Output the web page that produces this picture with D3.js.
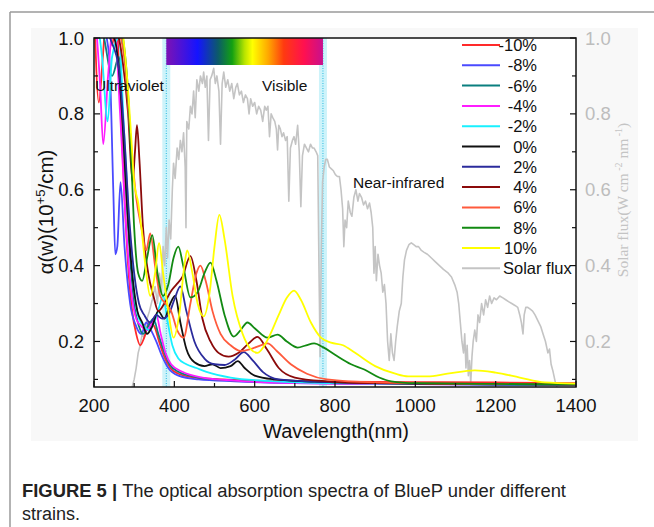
<!DOCTYPE html>
<html>
<head>
<meta charset="utf-8">
<script src="https://cdn.jsdelivr.net/npm/d3@7"></script>
<style>
  body { margin: 0; background: #fff; }
  svg { display: block; font-family: Arial, "Liberation Sans", sans-serif; }
</style>
</head>
<body>
<svg id="chart" width="654" height="527"></svg>
<script>
// Axis ticks
const xTicks = [200, 400, 600, 800, 1000, 1200, 1400];
const xMinorTicks = [300, 500, 700, 900, 1100, 1300];
const yTicks = [0.2, 0.4, 0.6, 0.8, 1.0];
const yMinorTicks = [0.1, 0.3, 0.5, 0.7, 0.9];

// Visible band edges (nm)
const visibleRange = [380, 770];

const strainLabels = ['-10%', '-8%', '-6%', '-4%', '-2%', '0%', '2%', '4%', '6%', '8%', '10%'];
const strainColors = ['#ff2a2a', '#4a4aff', '#0a7f7f', '#ff1cff', '#18f0ff', '#111111',
                      '#2b2b9c', '#8b0a0a', '#ff5a3c', '#128a12', '#ffff00'];

// Absorption spectra, [wavelength nm, alpha (1e5/cm)]
const absM10 = [[200,1.1],[212,0.83],[222,0.95],[232,1.08],[245,0.98],[255,1.05],[265,0.85],[275,0.6],
  [285,0.4],[295,0.28],[305,0.22],[315,0.19],[325,0.21],[338,0.25],[350,0.24],[362,0.2],[375,0.16],
  [390,0.13],[410,0.115],[450,0.105],[520,0.1],[600,0.097],[700,0.095],[800,0.094],[1000,0.093],
  [1200,0.092],[1400,0.09]];
const absM8 = [[200,1.1],[220,1.05],[238,0.95],[248,0.6],[253,0.43],[258,0.45],[266,0.62],[276,0.45],
  [290,0.3],[305,0.24],[318,0.22],[330,0.25],[342,0.23],[355,0.2],[370,0.16],[385,0.13],[410,0.11],
  [460,0.1],[550,0.095],[700,0.09],[900,0.088],[1200,0.086],[1400,0.085]];
const absM6 = [[200,1.1],[225,1.0],[245,0.9],[262,0.95],[275,0.7],[288,0.45],[300,0.3],[312,0.24],
  [322,0.22],[335,0.24],[348,0.26],[360,0.22],[372,0.18],[388,0.14],[410,0.12],[460,0.105],
  [550,0.097],[700,0.092],[900,0.089],[1200,0.087],[1400,0.086]];
const absM4 = [[200,1.1],[215,0.88],[223,0.72],[235,0.9],[250,1.05],[265,0.8],[280,0.5],[293,0.33],
  [305,0.26],[318,0.24],[332,0.23],[345,0.25],[355,0.27],[366,0.22],[378,0.17],[392,0.14],[420,0.12],
  [470,0.105],[550,0.097],[700,0.09],[900,0.088],[1200,0.086],[1400,0.085]];
const absM2 = [[200,1.1],[220,0.95],[234,0.78],[245,0.95],[262,1.0],[275,0.75],[288,0.5],[300,0.33],
  [312,0.26],[325,0.24],[338,0.23],[350,0.25],[362,0.29],[372,0.32],[382,0.26],[395,0.19],[410,0.155],
  [430,0.14],[455,0.13],[480,0.12],[540,0.105],[650,0.095],[800,0.09],[1000,0.088],[1400,0.085]];
const abs0 = [[200,1.1],[230,1.05],[255,0.98],[270,0.8],[283,0.55],[295,0.38],[308,0.28],[320,0.25],
  [332,0.22],[345,0.24],[360,0.28],[375,0.26],[390,0.3],[402,0.32],[415,0.25],[430,0.18],[450,0.145],
  [475,0.135],[495,0.14],[515,0.13],[540,0.135],[558,0.148],[575,0.13],[600,0.11],[650,0.1],
  [750,0.094],[900,0.09],[1200,0.087],[1400,0.086]];
const abs2 = [[200,1.1],[240,1.0],[262,0.92],[275,0.75],[288,0.52],[300,0.38],[312,0.3],[325,0.27],
  [340,0.25],[355,0.27],[370,0.26],[385,0.27],[400,0.31],[415,0.345],[430,0.28],[450,0.2],[475,0.155],
  [500,0.14],[525,0.138],[550,0.152],[573,0.172],[595,0.15],[620,0.12],[660,0.1],[750,0.094],
  [900,0.09],[1200,0.087],[1400,0.086]];
const abs4 = [[200,1.1],[245,1.05],[270,0.95],[285,0.8],[296,0.62],[302,0.7],[307,0.77],[313,0.68],
  [322,0.5],[335,0.38],[348,0.32],[360,0.28],[375,0.3],[390,0.33],[405,0.35],[420,0.37],[440,0.425],
  [455,0.36],[470,0.26],[490,0.2],[510,0.17],[535,0.16],[560,0.17],[585,0.195],[607,0.212],[630,0.18],
  [660,0.13],[700,0.105],[780,0.095],[900,0.09],[1200,0.088],[1400,0.087]];
const abs6 = [[200,1.1],[250,1.05],[275,0.95],[290,0.75],[305,0.58],[318,0.5],[330,0.44],[340,0.485],
  [352,0.4],[365,0.32],[378,0.3],[392,0.28],[407,0.23],[423,0.21],[440,0.3],[455,0.38],[465,0.4],
  [478,0.36],[495,0.28],[515,0.22],[540,0.19],[565,0.175],[590,0.18],[615,0.19],[632,0.195],
  [655,0.175],[690,0.14],[730,0.115],[780,0.1],[900,0.092],[1200,0.088],[1400,0.087]];
const abs8 = [[200,1.1],[260,1.05],[282,0.9],[292,0.7],[300,0.5],[310,0.38],[320,0.36],[332,0.42],
  [345,0.48],[358,0.38],[372,0.32],[385,0.35],[398,0.42],[410,0.45],[422,0.4],[440,0.316],[458,0.33],
  [475,0.38],[490,0.408],[505,0.36],[525,0.27],[548,0.213],[565,0.23],[582,0.25],[600,0.235],
  [632,0.21],[657,0.218],[680,0.2],[707,0.184],[728,0.19],[748,0.195],[770,0.185],[800,0.165],
  [840,0.14],[873,0.126],[910,0.105],[940,0.095],[1000,0.09],[1200,0.088],[1400,0.087]];
const abs10 = [[200,1.1],[265,1.05],[282,0.9],[292,0.75],[300,0.62],[310,0.566],[318,0.5],[328,0.4],
  [340,0.32],[352,0.38],[362,0.46],[372,0.38],[385,0.28],[398,0.21],[412,0.27],[425,0.4],[432,0.44],
  [445,0.38],[458,0.3],[473,0.266],[488,0.33],[500,0.45],[512,0.534],[525,0.47],[545,0.32],
  [570,0.22],[590,0.18],[607,0.17],[630,0.2],[660,0.27],[680,0.315],[698,0.334],[715,0.31],
  [740,0.25],[765,0.21],[790,0.197],[820,0.19],[850,0.17],[900,0.135],[950,0.115],[982,0.108],
  [1030,0.108],[1080,0.115],[1148,0.124],[1200,0.118],[1260,0.105],[1322,0.092],[1400,0.089]];
const absSeries = [absM10, absM8, absM6, absM4, absM2, abs0, abs2, abs4, abs6, abs8, abs10];

// Solar flux, [wavelength nm, W cm^-2 nm^-1]
const solarFlux = [[295,0.08],[300,0.1],[305,0.13],[310,0.17],[315,0.19],[320,0.22],[325,0.21],
  [332,0.26],[338,0.28],[345,0.31],[352,0.345],[358,0.3],[363,0.38],[368,0.33],[372,0.45],[376,0.4],
  [380,0.5],[383,0.42],[387,0.52],[391,0.47],[395,0.6],[398,0.67],[402,0.63],[407,0.71],[411,0.68],
  [415,0.73],[419,0.7],[423,0.75],[427,0.66],[429,0.5],[431,0.78],[436,0.76],[440,0.82],[444,0.8],
  [448,0.86],[452,0.79],[456,0.89],[461,0.86],[465,0.9],[470,0.88],[473,0.91],[477,0.87],[481,0.9],
  [485,0.73],[489,0.89],[493,0.9],[498,0.92],[502,0.88],[506,0.9],[511,0.86],[515,0.72],[519,0.88],
  [523,0.91],[528,0.87],[533,0.89],[538,0.86],[543,0.88],[548,0.84],[553,0.87],[557,0.88],[562,0.85],
  [567,0.86],[572,0.83],[577,0.85],[582,0.84],[586,0.8],[590,0.84],[595,0.82],[600,0.83],[605,0.8],
  [610,0.82],[615,0.81],[620,0.78],[625,0.82],[629,0.81],[633,0.82],[637,0.74],[641,0.8],[645,0.79],
  [650,0.78],[654,0.76],[657,0.705],[660,0.77],[664,0.76],[668,0.74],[672,0.75],[677,0.73],[681,0.74],
  [685,0.57],[689,0.71],[694,0.73],[698,0.74],[702,0.72],[707,0.77],[711,0.7],[715,0.555],[719,0.69],
  [724,0.72],[729,0.71],[734,0.7],[739,0.72],[744,0.71],[748,0.71],[753,0.7],[757,0.69],[760,0.4],
  [763,0.16],[766,0.45],[769,0.62],[773,0.66],[777,0.68],[781,0.68],[786,0.66],[791,0.655],[796,0.65],
  [801,0.64],[806,0.635],[811,0.635],[815,0.6],[819,0.55],[822,0.45],[825,0.52],[829,0.5],[833,0.57],
  [838,0.54],[842,0.53],[847,0.58],[852,0.6],[857,0.57],[861,0.59],[866,0.58],[871,0.56],[876,0.57],
  [881,0.55],[886,0.565],[890,0.54],[894,0.5],[897,0.38],[900,0.45],[903,0.36],[907,0.43],[911,0.4],
  [915,0.38],[919,0.33],[923,0.35],[927,0.3],[931,0.2],[935,0.15],[939,0.22],[943,0.17],[947,0.15],
  [951,0.2],[955,0.24],[960,0.28],[965,0.3],[969,0.37],[973,0.415],[978,0.44],[984,0.455],[990,0.46],
  [996,0.455],[1002,0.45],[1008,0.45],[1015,0.44],[1022,0.435],[1030,0.43],[1040,0.42],[1050,0.41],
  [1060,0.4],[1070,0.39],[1082,0.38],[1090,0.37],[1098,0.35],[1104,0.33],[1108,0.3],[1112,0.25],
  [1116,0.2],[1120,0.17],[1123,0.22],[1126,0.13],[1129,0.19],[1132,0.11],[1135,0.15],[1138,0.09],
  [1141,0.16],[1144,0.2],[1148,0.23],[1152,0.2],[1156,0.27],[1160,0.25],[1165,0.3],[1170,0.27],
  [1175,0.31],[1180,0.29],[1185,0.32],[1190,0.3],[1196,0.315],[1202,0.31],[1210,0.32],[1218,0.315],
  [1225,0.31],[1232,0.305],[1240,0.3],[1248,0.295],[1255,0.29],[1260,0.27],[1264,0.25],[1268,0.22],
  [1271,0.27],[1275,0.29],[1280,0.29],[1286,0.285],[1292,0.28],[1298,0.27],[1305,0.255],[1312,0.24],
  [1318,0.22],[1324,0.2],[1330,0.17],[1334,0.18],[1338,0.14],[1343,0.12],[1347,0.1],[1350,0.085],
  [1353,0.08]];

// Rainbow bar colours across the visible band
const rainbowStops = [[0, '#7d12b4'], [0.2, '#1414ff'], [0.33, '#0c5a6a'], [0.42, '#12a012'],
  [0.5, '#b8e400'], [0.55, '#ffff00'], [0.65, '#ffa800'], [0.75, '#ff3a10'], [0.88, '#ff1050'],
  [1, '#c8108e']];

const svg = d3.select('#chart');
const margin = { left: 94, right: 576, top: 38, bottom: 387 };

// Figure frame + light chart backdrop
svg.append('line').attr('x1', 10).attr('x2', 654).attr('y1', 12).attr('y2', 12)
  .attr('stroke', '#9a9a9a').attr('stroke-width', 1.5);
svg.append('line').attr('x1', 10).attr('x2', 10).attr('y1', 12).attr('y2', 527)
  .attr('stroke', '#9a9a9a').attr('stroke-width', 1.5);
svg.append('rect').attr('x', 31).attr('y', 28).attr('width', 607).attr('height', 413)
  .attr('fill', '#f8f8f8');
svg.append('rect').attr('x', margin.left).attr('y', margin.top)
  .attr('width', margin.right - margin.left).attr('height', margin.bottom - margin.top)
  .attr('fill', '#fff');

const x = d3.scaleLinear().domain([200, 1400]).range([margin.left, margin.right]);
const y = d3.scaleLinear().domain([0.08, 1.0]).range([margin.bottom, margin.top]);

svg.append('clipPath').attr('id', 'plot-clip').append('rect')
  .attr('x', margin.left).attr('y', margin.top)
  .attr('width', margin.right - margin.left).attr('height', margin.bottom - margin.top);
const plot = svg.append('g').attr('clip-path', 'url(#plot-clip)');

// Visible band edges: glow + dotted line
visibleRange.forEach((wl) => {
  plot.append('rect').attr('x', x(wl) - 4).attr('y', margin.top).attr('width', 8)
    .attr('height', margin.bottom - margin.top).attr('fill', '#cdf3fa');
  plot.append('line').attr('x1', x(wl)).attr('x2', x(wl))
    .attr('y1', margin.top).attr('y2', margin.bottom)
    .attr('stroke', '#27b9e0').attr('stroke-width', 1).attr('stroke-dasharray', '1,1.5');
});

// Rainbow bar
const grad = svg.append('defs').append('linearGradient').attr('id', 'rainbow');
rainbowStops.forEach(([o, c]) => grad.append('stop').attr('offset', o).attr('stop-color', c));
plot.append('rect').attr('x', x(visibleRange[0])).attr('y', margin.top)
  .attr('width', x(visibleRange[1]) - x(visibleRange[0])).attr('height', 27)
  .attr('fill', 'url(#rainbow)');

// Solar flux
const solarLine = d3.line().x((d) => x(d[0])).y((d) => y(d[1]));
plot.append('path').datum(solarFlux).attr('d', solarLine)
  .attr('fill', 'none').attr('stroke', '#c4c4c4').attr('stroke-width', 1.6)
  .attr('stroke-linejoin', 'round');

// Absorption curves
const absLine = d3.line().x((d) => x(d[0])).y((d) => y(d[1])).curve(d3.curveMonotoneX);
absSeries.forEach((s, i) => {
  plot.append('path').datum(s).attr('d', absLine)
    .attr('fill', 'none').attr('stroke', strainColors[i]).attr('stroke-width', 1.8)
    .attr('stroke-linejoin', 'round');
});

// Region labels
const regionLabel = (txt, xx, yy) => svg.append('text').attr('x', xx).attr('y', yy)
  .attr('font-size', 15.5).attr('fill', '#111').text(txt);
regionLabel('Ultraviolet', 95, 91);
regionLabel('Visible', 262, 91);
regionLabel('Near-infrared', 353, 188);

// Frame
svg.append('rect').attr('x', margin.left).attr('y', margin.top)
  .attr('width', margin.right - margin.left).attr('height', margin.bottom - margin.top)
  .attr('fill', 'none').attr('stroke', '#111').attr('stroke-width', 1.5);

// Ticks (inward)
const tickG = svg.append('g').attr('stroke', '#111').attr('stroke-width', 1.2);
[...xTicks, ...xMinorTicks].forEach((t) => {
  tickG.append('line').attr('x1', x(t)).attr('x2', x(t))
    .attr('y1', margin.bottom).attr('y2', margin.bottom - (xTicks.includes(t) ? 6 : 4));
});
[...yTicks, ...yMinorTicks].forEach((t) => {
  const len = yTicks.includes(t) ? 6 : 4;
  tickG.append('line').attr('x1', margin.left).attr('x2', margin.left + len)
    .attr('y1', y(t)).attr('y2', y(t));
  tickG.append('line').attr('x1', margin.right).attr('x2', margin.right - len)
    .attr('y1', y(t)).attr('y2', y(t));
});

// Tick labels
svg.selectAll('.x-label').data(xTicks).enter().append('text')
  .attr('x', (d) => x(d)).attr('y', 412).attr('text-anchor', 'middle')
  .attr('font-size', 18.5).attr('fill', '#111').text((d) => d);
svg.selectAll('.y-label').data(yTicks).enter().append('text')
  .attr('x', 84).attr('y', (d) => y(d) + 6.5).attr('text-anchor', 'end')
  .attr('font-size', 18.5).attr('fill', '#111').text((d) => d.toFixed(1));
svg.selectAll('.y2-label').data(yTicks).enter().append('text')
  .attr('x', 585).attr('y', (d) => y(d) + 6.5)
  .attr('font-size', 18.5).attr('fill', '#bdbdbd').text((d) => d.toFixed(1));

// Axis titles
svg.append('text').attr('x', 336).attr('y', 438).attr('text-anchor', 'middle')
  .attr('font-size', 20).attr('fill', '#111').text('Wavelength(nm)');

const yTitle = svg.append('text').attr('transform', 'translate(53,212) rotate(-90)')
  .attr('text-anchor', 'middle').attr('font-size', 20.5).attr('fill', '#111');
yTitle.append('tspan').text('α(w)(10');
yTitle.append('tspan').attr('font-size', 13).attr('dy', -8).text('+5');
yTitle.append('tspan').attr('dy', 8).text('/cm)');

const y2Title = svg.append('text').attr('transform', 'translate(628,200) rotate(-90)')
  .attr('text-anchor', 'middle').attr('font-size', 15.5)
  .attr('font-family', '"Liberation Serif", "DejaVu Serif", serif').attr('fill', '#c4c4c4');
y2Title.append('tspan').text('Solar flux(W cm');
y2Title.append('tspan').attr('font-size', 10).attr('dy', -6).text(' -2');
y2Title.append('tspan').attr('dy', 6).text(' nm');
y2Title.append('tspan').attr('font-size', 10).attr('dy', -6).text(' -1');
y2Title.append('tspan').attr('dy', 6).text(')');

// Legend
const legendRows = strainLabels.map((l, i) => ({ label: l, color: strainColors[i] }))
  .concat([{ label: 'Solar flux', color: '#c4c4c4' }]);
const legend = svg.append('g');
legendRows.forEach((r, i) => {
  const ly = 45 + i * 20.3;
  legend.append('line').attr('x1', 462).attr('x2', 500).attr('y1', ly).attr('y2', ly)
    .attr('stroke', r.color).attr('stroke-width', 2);
  const solar = r.label === 'Solar flux';
  legend.append('text').attr('x', solar ? 503 : 537).attr('y', ly + 6)
    .attr('text-anchor', solar ? 'start' : 'end')
    .attr('font-size', 16.5).attr('fill', '#111').text(r.label);
});

// Caption
const cap1 = svg.append('text').attr('x', 22).attr('y', 497).attr('font-size', 18)
  .attr('fill', '#222').attr('textLength', 544).attr('lengthAdjust', 'spacingAndGlyphs');
cap1.append('tspan').attr('font-weight', 'bold').text('FIGURE 5 | ');
cap1.append('tspan').text('The optical absorption spectra of BlueP under different');
svg.append('text').attr('x', 22).attr('y', 520).attr('font-size', 18).attr('fill', '#222')
  .text('strains.');
</script>
</body>
</html>
